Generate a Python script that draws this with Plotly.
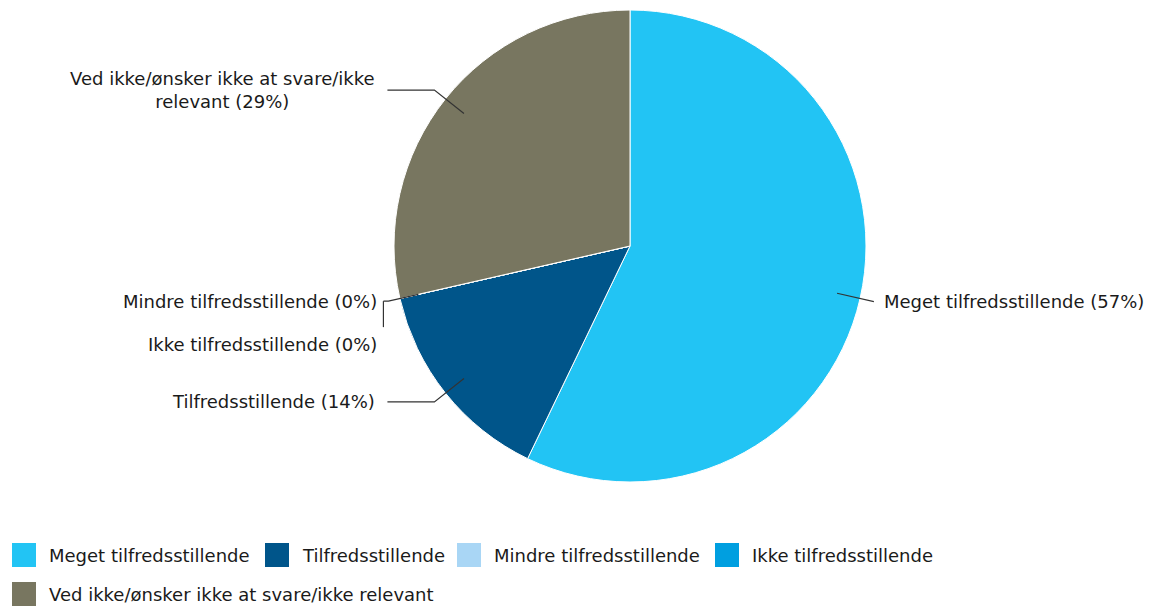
import math
import plotly.graph_objects as go

categories = ["Meget tilfredsstillende", "Tilfredsstillende", "Mindre tilfredsstillende",
              "Ikke tilfredsstillende", "Ved ikke/ønsker ikke at svare/ikke relevant"]
values = [4, 1, 0, 0, 2]
colors = ["#22C4F4", "#00558A", "#A9D6F5", "#009FE0", "#787660"]
label_texts = ["Meget tilfredsstillende", "Tilfredsstillende", "Mindre tilfredsstillende",
               "Ikke tilfredsstillende", "Ved ikke/ønsker ikke at svare/ikke<br>relevant"]

OFF = 8  # page body margin
W, H = 1152 - OFF, 606 - OFF
CX, CY, R = 630, 246, 236
FONT = "DejaVu Sans, Verdana, sans-serif"
FS = 18

def px(x):
    return (x - OFF) / W

def py(y):
    return 1 - (y - OFF) / H

fig = go.Figure()
fig.add_trace(go.Pie(
    labels=categories, values=values, sort=False, direction="clockwise", rotation=0,
    marker=dict(colors=colors, line=dict(color="white", width=1)),
    textinfo="none", hoverinfo="label+percent", showlegend=False,
    domain=dict(x=[px(CX - R), px(CX + R)], y=[py(CY + R), py(CY - R)]),
))

total = sum(values)
shapes = []
annotations = []
cum = 0
for i, (lab, v) in enumerate(zip(label_texts, values)):
    pct = round(100 * v / total)
    mid = (cum + v / 2) / total * 2 * math.pi
    cum += v
    dx, dy = math.sin(mid), -math.cos(mid)
    x1, y1 = CX + dx * R * 0.9, CY + dy * R * 0.9
    x2, y2 = CX + dx * R * 1.06, CY + dy * R * 1.06
    right = dx > 0
    if v == 0:
        x1, y1 = CX + dx * R * 0.92, CY + dy * R * 0.92
        x2, y2 = CX + dx * R * 1.05, CY + dy * R * 1.05
        if i == 2:
            pts = [(x1, y1), (x2, y2), (x2 - 5, y2)]
            ly = y2
        else:
            pts = [(x2 - 5, y2), (x2 - 5, y2 + 26)]
            ly = y2 + 43
        lx = x2 - 9
    elif right:
        pts = [(x1, y1), (x2, y2)]
        lx, ly = x2 + 8, y2
    else:
        x3 = x2 - 47
        pts = [(x1, y1), (x2, y2), (x3, y2)]
        lx, ly = x3 - 10, y2
    path = "M" + " L".join(f"{px(a):.5f},{py(b):.5f}" for a, b in pts)
    shapes.append(dict(type="path", path=path, xref="paper", yref="paper",
                       line=dict(color="#333333", width=1.2)))
    annotations.append(dict(
        x=px(lx), y=py(ly), xref="paper", yref="paper", showarrow=False,
        text=f"{lab} ({pct}%)", xanchor="left" if right else "right", yanchor="middle",
        align="center", font=dict(family=FONT, size=FS, color="#1a1a1a")))

# custom legend
legend_pos = [(12, 555), (265, 555), (457, 555), (715, 555), (12, 594)]
for (lx, ly), cat, col in zip(legend_pos, categories, colors):
    shapes.append(dict(type="rect", xref="paper", yref="paper",
                       x0=px(lx), x1=px(lx + 24), y0=py(ly + 12), y1=py(ly - 12),
                       fillcolor=col, line=dict(color=col, width=0)))
    annotations.append(dict(x=px(lx + 35), y=py(ly), xref="paper", yref="paper",
                            showarrow=False, text=cat, xanchor="left", yanchor="middle",
                            font=dict(family=FONT, size=FS, color="#1a1a1a")))

fig.update_layout(
    width=W, height=H, margin=dict(l=0, r=0, t=0, b=0),
    paper_bgcolor="white", plot_bgcolor="white",
    shapes=shapes, annotations=annotations, showlegend=False,
)
fig.write_html("out.html")
